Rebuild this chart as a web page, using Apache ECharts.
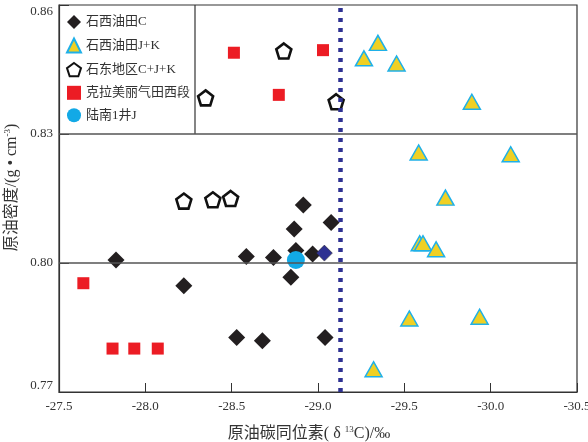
<!DOCTYPE html>
<html><head><meta charset="utf-8">
<script src="https://cdn.jsdelivr.net/npm/echarts@6/dist/echarts.min.js"></script>
<style>html,body{margin:0;padding:0;background:#fff}#c{width:588px;height:442px}</style>
</head><body><div id="c"></div>
<script>
// ---- data ----
const seriesNames = ['石西油田C', '石西油田J+K', '石东地区C+J+K', '克拉美丽气田西段', '陆南1井J'];
const shixiC = [[-27.83,0.8007],[-28.223,0.7947],[-28.529,0.7827],[-28.678,0.7819],[-28.585,0.8015],[-28.742,0.8013],[-28.843,0.7967],[-28.862,0.8079],[-28.915,0.8135],[-28.872,0.8029],[-28.969,0.8021],[-29.076,0.8094],[-29.041,0.7827]];
const shixiCBlue = [[-29.037,0.8023]];
const shixiJK = [[-29.347,0.8512],[-29.266,0.8476],[-29.455,0.8464],[-29.891,0.8375],[-29.583,0.8257],[-30.116,0.8253],[-29.738,0.8152],[-29.589,0.8046],[-29.608,0.8046],[-29.684,0.8032],[-29.529,0.7871],[-29.936,0.7875],[-29.322,0.7753]];
const shidong = [[-28.349,0.8384],[-28.802,0.8493],[-29.105,0.8375],[-28.223,0.8144],[-28.391,0.8147],[-28.494,0.8150]];
const kelameili = [[-28.513,0.8489],[-28.773,0.8391],[-29.029,0.8495],[-27.641,0.7953],[-27.81,0.7801],[-27.936,0.7801],[-28.072,0.7801]];
const lunan = [[-28.872,0.8007]];
const dividerX = -29.13;
const refLinesY = [0.80, 0.83];
const yTickValues = [0.77, 0.80, 0.83, 0.86];
const xMin = -30.5, xMax = -27.5, xStep = 0.5;
const yMin = 0.77, yMax = 0.86;

const serif = "'Liberation Serif','Noto Sans CJK SC',serif";
const pentagon = 'path://M0,-10L9.51,-3.09L5.88,8.09L-5.88,8.09L-9.51,-3.09Z';

const chart = echarts.init(document.getElementById('c'));
chart.setOption({
  animation: false,
  backgroundColor: '#fff',
  grid: { left: 59, right: 11, top: 5, bottom: 50, outerBoundsMode: 'none', containLabel: false,
    show: true, borderColor: '#333', borderWidth: 1.2, backgroundColor: 'transparent' },
  legend: {
    data: seriesNames,
    orient: 'vertical', left: 66, top: 15, itemGap: 8.5, padding: 0,
    itemWidth: 14, itemHeight: 14,
    textStyle: { fontFamily: serif, fontSize: 13, color: '#333' }
  },
  xAxis: {
    type: 'value', min: xMin, max: xMax, interval: xStep, inverse: true,
    name: '原油碳同位素( δ {sup|13}C)/‰',
    nameLocation: 'middle', nameGap: 33,
    nameTextStyle: { fontFamily: serif, fontSize: 16, color: '#333', padding: [0, 18, 0, 0],
      rich: { sup: { fontSize: 9, verticalAlign: 'top', padding: [0, 0, 8, 0], fontFamily: serif, color: '#333' } } },
    axisLine: { show: true, lineStyle: { color: '#333', width: 1.2 } },
    axisTick: { show: true, inside: true, length: 9, lineStyle: { color: '#333' } },
    axisLabel: { fontFamily: serif, fontSize: 13, color: '#333', margin: 8, formatter: v => v.toFixed(1) },
    splitLine: { show: false }
  },
  yAxis: {
    type: 'value', min: yMin, max: yMax,
    name: '原油密度/(g • cm{sup|-3})',
    nameLocation: 'middle', nameGap: 35, nameRotate: 90,
    nameTextStyle: { fontFamily: serif, fontSize: 16, color: '#333', padding: [0, 0, 0, 22],
      rich: { sup: { fontSize: 9, verticalAlign: 'top', padding: [0, 0, 8, 0], fontFamily: serif, color: '#333' } } },
    axisLine: { show: true, lineStyle: { color: '#333', width: 1.2 } },
    axisTick: { show: true, inside: true, length: 10, customValues: yTickValues, lineStyle: { color: '#333' } },
    axisLabel: { fontFamily: serif, fontSize: 13, color: '#333', margin: 6, customValues: yTickValues,
      verticalAlignMaxLabel: 'top', verticalAlignMinLabel: 'bottom', formatter: v => v.toFixed(2) },
    splitLine: { show: false }
  },
  series: [
    { name: 'lines', type: 'scatter', data: [], silent: true,
      markLine: { silent: true, symbol: 'none', label: { show: false }, animation: false,
        data: refLinesY.map(v => ({ yAxis: v, lineStyle: { color: '#555', width: 1.5, type: 'solid' } })) } },
    { name: seriesNames[1], type: 'scatter', data: shixiJK, symbol: 'triangle', symbolSize: [17, 15],
      itemStyle: { color: '#f0d024', borderColor: '#1fb0e8', borderWidth: 1.5, opacity: 1 } },
    { name: seriesNames[3], type: 'scatter', data: kelameili, symbol: 'rect', symbolSize: 12,
      itemStyle: { color: '#ec1c24', opacity: 1 } },
    { name: seriesNames[2], type: 'scatter', data: shidong, symbol: pentagon, symbolSize: 15,
      itemStyle: { color: '#fff', borderColor: '#111', borderWidth: 2.6, opacity: 1 } },
    { name: 'divider', type: 'scatter', data: [], silent: true, z: 3,
      markLine: { silent: true, symbol: 'none', label: { show: false }, animation: false,
        data: [{ xAxis: dividerX, lineStyle: { color: '#2e3192', width: 4.5, type: [4, 6], cap: 'butt' } }] } },
    { name: seriesNames[0], type: 'scatter', data: shixiC, symbol: 'diamond', symbolSize: [17, 17],
      itemStyle: { color: '#231f20', opacity: 1 } },
    { name: 'blue', type: 'scatter', data: shixiCBlue, symbol: 'diamond', symbolSize: [16, 16],
      itemStyle: { color: '#2e3192', borderColor: '#231f20', borderWidth: 0.5, opacity: 1 } },
    { name: seriesNames[4], type: 'scatter', data: lunan, symbol: 'circle', symbolSize: 18,
      itemStyle: { color: '#12a9e6', opacity: 1 } }
  ]
});
const p1 = chart.convertToPixel({ gridIndex: 0 }, [xMax, yMax]);
const p2 = chart.convertToPixel({ gridIndex: 0 }, [xMax, 0.83]);
chart.setOption({ graphic: [{ type: 'line', shape: { x1: 195, y1: p1[1], x2: 195, y2: p2[1] }, style: { stroke: '#333', lineWidth: 1.2 } }] });
</script>
</body></html>
